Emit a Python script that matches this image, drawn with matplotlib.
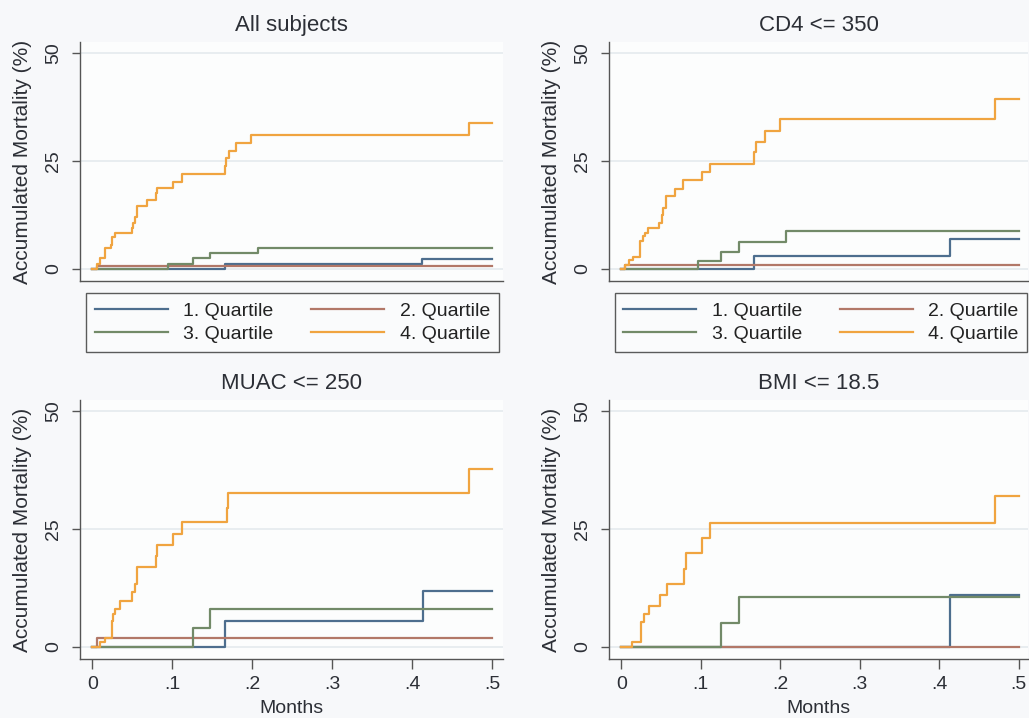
import matplotlib
matplotlib.use("Agg")
import matplotlib.pyplot as plt

plt.rcParams['font.family'] = ['Liberation Sans', 'DejaVu Sans']

# ---- data (months, accumulated mortality %) ----
titles = ["All subjects", "CD4 <= 350", "MUAC <= 250", "BMI <= 18.5"]
labels = ["1. Quartile", "2. Quartile", "3. Quartile", "4. Quartile"]

# All subjects
all_q1_t = [0, 0.1665, 0.4124, 0.5]
all_q1_y = [0, 1.0, 2.2, 2.2]
all_q2_t = [0, 0.0055, 0.5]
all_q2_y = [0, 0.6, 0.6]
all_q3_t = [0, 0.095, 0.1256, 0.1473, 0.2078, 0.5]
all_q3_y = [0, 1.0, 2.4, 3.6, 4.9, 4.9]
all_q4_t = [0, 0.006, 0.0096, 0.0163, 0.0234, 0.0246, 0.0284, 0.0492, 0.0513,
            0.0534, 0.0563, 0.068, 0.0797, 0.0814, 0.1014, 0.1119, 0.1665,
            0.1674, 0.1707, 0.1799, 0.1982, 0.4708, 0.5]
all_q4_y = [0, 1.2, 2.6, 4.7, 5.6, 7.4, 8.4, 9.4, 10.7, 12.1, 14.5, 15.9, 17.5,
            18.8, 20.2, 21.9, 23.9, 25.6, 27.3, 29.1, 31.0, 33.8, 33.8]

# CD4 <= 350
cd4_q1_t = [0, 0.1665, 0.4128, 0.5]
cd4_q1_y = [0, 3.0, 6.8, 6.8]
cd4_q2_t = [0, 0.005, 0.5]
cd4_q2_y = [0, 0.85, 0.85]
cd4_q3_t = [0, 0.096, 0.126, 0.1477, 0.2074, 0.5]
cd4_q3_y = [0, 1.8, 3.9, 6.1, 8.8, 8.8]
cd4_q4_t = [0, 0.005, 0.0092, 0.0154, 0.0238, 0.0271, 0.030, 0.0342, 0.048,
            0.0509, 0.053, 0.0563, 0.0676, 0.078, 0.101, 0.1114, 0.1665, 0.169,
            0.1803, 0.1991, 0.4704, 0.5]
cd4_q4_y = [0, 0.85, 2.0, 2.8, 6.5, 7.6, 8.4, 9.5, 10.7, 12.4, 14.0, 16.9, 18.6,
            20.5, 22.4, 24.4, 27.0, 29.4, 32.0, 34.7, 39.3, 39.3]

# MUAC <= 250
muac_q1_t = [0, 0.1665, 0.4132, 0.5]
muac_q1_y = [0, 5.5, 11.9, 11.9]
muac_q2_t = [0, 0.0054, 0.5]
muac_q2_y = [0, 1.8, 1.8]
muac_q3_t = [0, 0.1256, 0.1473, 0.5]
muac_q3_y = [0, 4.0, 8.1, 8.1]
muac_q4_t = [0, 0.0096, 0.0159, 0.0242, 0.0263, 0.0284, 0.0346, 0.0492, 0.0534,
             0.0563, 0.0797, 0.0814, 0.1014, 0.1119, 0.1682, 0.1703, 0.4708, 0.5]
muac_q4_y = [0, 1.0, 1.9, 5.5, 6.9, 8.1, 9.8, 11.5, 13.3, 17.0, 19.2, 21.6, 23.9,
             26.4, 29.5, 32.5, 37.7, 37.7]

# BMI <= 18.5
bmi_q1_t = [0, 0.4128, 0.5]
bmi_q1_y = [0, 11.0, 11.0]
bmi_q2_t = [0, 0.5]
bmi_q2_y = [0, 0]
bmi_q3_t = [0, 0.1252, 0.1477, 0.5]
bmi_q3_y = [0, 5.0, 10.5, 10.5]
bmi_q4_t = [0, 0.0134, 0.025, 0.028, 0.035, 0.0488, 0.0572, 0.0789, 0.0814,
            0.101, 0.1114, 0.4704, 0.5]
bmi_q4_y = [0, 1.06, 5.3, 6.9, 8.7, 11.0, 13.4, 16.4, 19.8, 23.0, 26.3, 32.0, 32.0]

panels = [
    [(all_q1_t, all_q1_y), (all_q2_t, all_q2_y), (all_q3_t, all_q3_y), (all_q4_t, all_q4_y)],
    [(cd4_q1_t, cd4_q1_y), (cd4_q2_t, cd4_q2_y), (cd4_q3_t, cd4_q3_y), (cd4_q4_t, cd4_q4_y)],
    [(muac_q1_t, muac_q1_y), (muac_q2_t, muac_q2_y), (muac_q3_t, muac_q3_y), (muac_q4_t, muac_q4_y)],
    [(bmi_q1_t, bmi_q1_y), (bmi_q2_t, bmi_q2_y), (bmi_q3_t, bmi_q3_y), (bmi_q4_t, bmi_q4_y)],
]

colors = ["#4d6e8e", "#b27868", "#728a68", "#f0a440"]
xticks = [0, 0.1, 0.2, 0.3, 0.4, 0.5]
xticklabels = ["0", ".1", ".2", ".3", ".4", ".5"]

W, H = 1029, 718
fig = plt.figure(figsize=(W / 100, H / 100), dpi=100, facecolor="#f7f8fa")

# axes boxes in pixels: left, top, right, bottom
boxes = [(80, 42, 503, 281), (609, 42, 1028, 281),
         (80, 400, 503, 659), (609, 400, 1028, 659)]
xlims = [(-0.0154, 0.5139), (-0.0154, 0.5115), (-0.0154, 0.5139), (-0.0154, 0.5115)]
ylims = [(-2.85, 52.6), (-2.85, 52.6), (-2.6, 52.3), (-2.6, 52.3)]
legend_centers = [((87 + 498) / 2, 322.5), ((615 + 1027) / 2, 322.5)]

txt = "#2c2f36"
for i, (l, t, r, b) in enumerate(boxes):
    ax = fig.add_axes([l / W, 1 - b / H, (r - l) / W, (b - t) / H])
    ax.set_facecolor("#fcfdfd")
    for y in (0, 25, 50):
        ax.axhline(y, color="#e2e9ed", lw=1.1, zorder=0)
    lines = []
    for (t_, y_), c, lab in zip(panels[i], colors, labels):
        ln, = ax.step(t_, y_, where="post", color=c, lw=1.6, label=lab)
        lines.append(ln)
    ax.set_xlim(*xlims[i])
    ax.set_ylim(*ylims[i])
    ax.set_yticks([0, 25, 50])
    ax.set_yticklabels(["0", "25", "50"], rotation=90, va="center")
    for s in ("top", "right"):
        ax.spines[s].set_visible(False)
    for s in ("left", "bottom"):
        ax.spines[s].set_color("#555555")
        ax.spines[s].set_linewidth(1.0)
    ax.tick_params(axis="y", length=6, width=1.0, color="#555555",
                   labelsize=14, labelcolor=txt, pad=7)
    ax.set_ylabel("Accumulated Mortality (%)", fontsize=15, color=txt, labelpad=9)
    ax.set_title(titles[i], fontsize=16, color=txt, pad=8)
    if i < 2:
        ax.tick_params(axis="x", bottom=False, labelbottom=False)
        # legend filled row by row: 1 2 / 3 4
        order = [0, 2, 1, 3]
        cx, cy = legend_centers[i]
        lg = ax.legend([lines[k] for k in order], [labels[k] for k in order],
                       ncol=2, loc="center", bbox_to_anchor=(cx / W, 1 - cy / H),
                       bbox_transform=fig.transFigure, fontsize=14,
                       handlelength=3.75, handletextpad=0.8, columnspacing=1.95,
                       labelspacing=0.28, borderpad=0.45, fancybox=False,
                       frameon=True)
        lg.get_frame().set_edgecolor("#333333")
        lg.get_frame().set_linewidth(1.0)
        lg.get_frame().set_facecolor("#fcfdfd")
        for tx in lg.get_texts():
            tx.set_color("#222222")
    else:
        ax.set_xticks(xticks)
        ax.set_xticklabels(xticklabels)
        ax.tick_params(axis="x", length=7, width=1.0, color="#555555",
                       labelsize=14, labelcolor=txt, pad=5)
        ax.set_xlabel("Months", fontsize=14, color=txt, labelpad=5)

fig.savefig("out.png", dpi=100, facecolor=fig.get_facecolor())
